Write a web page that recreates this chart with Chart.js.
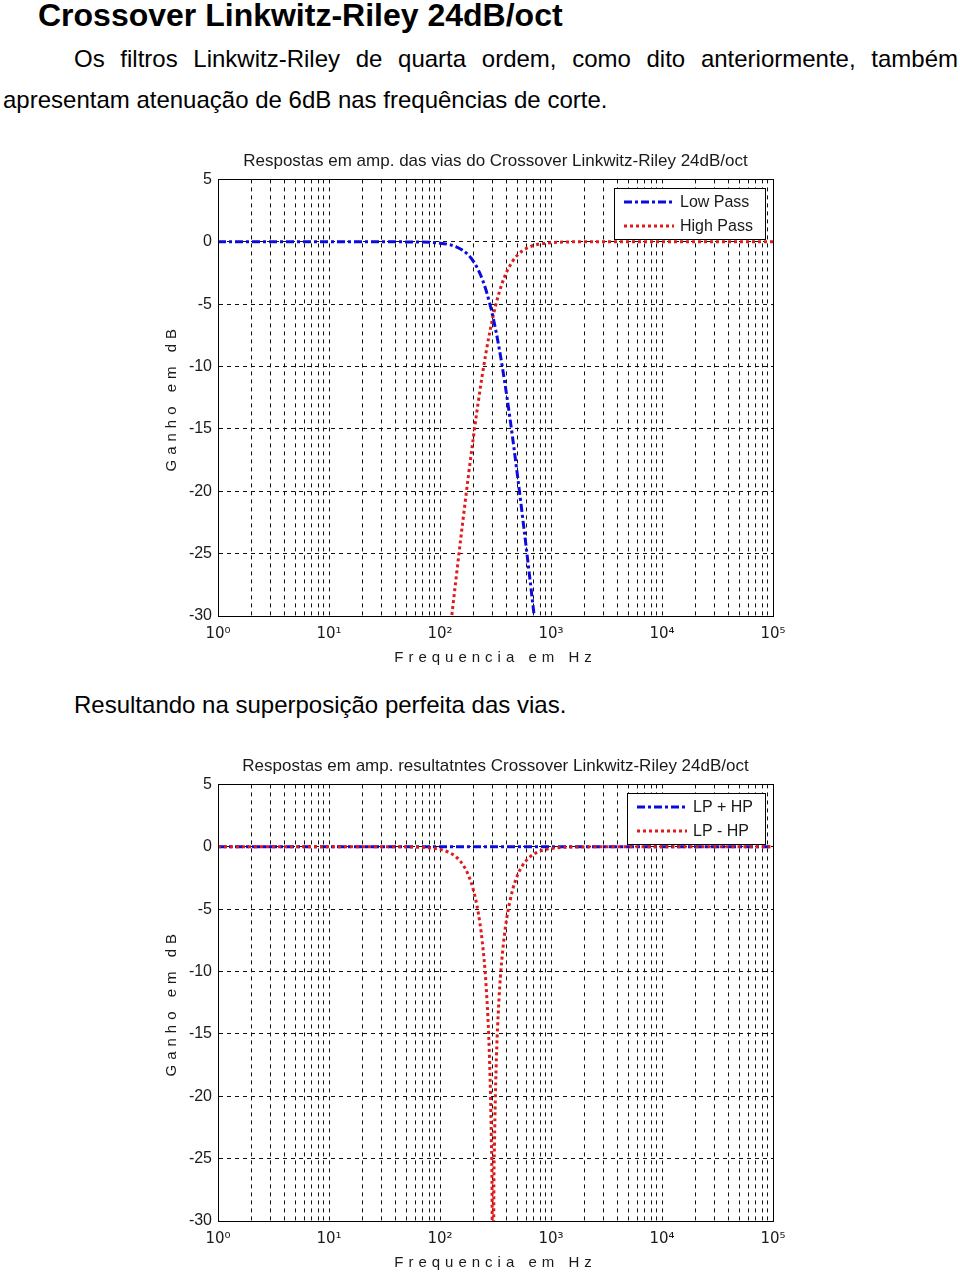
<!DOCTYPE html>
<html lang="pt">
<head>
<meta charset="utf-8">
<title>Crossover Linkwitz-Riley 24dB/oct</title>
<script src="https://cdn.jsdelivr.net/npm/chart.js@4.4.1/dist/chart.umd.min.js"></script>
<style>
  html, body { margin: 0; padding: 0; background: #fff; overflow: hidden; }
  body { width: 960px; height: 1274px; position: relative; font-family: "Liberation Sans", Arial, sans-serif; color: #000; }
  h1 { position: absolute; left: 38px; top: -1px; margin: 0; font-size: 32px; line-height: 32px; font-weight: bold; white-space: nowrap; }
  .p { position: absolute; margin: 0; font-size: 24px; line-height: 41px; white-space: nowrap; }
  #l1 { left: 74px; top: 38px; width: 884px; white-space: normal; text-align: justify; text-align-last: justify; }
  #l2 { left: 3px; top: 79px; }
  #l3 { left: 74px; top: 684px; }
  canvas { position: absolute; }
</style>
</head>
<body>
<h1>Crossover Linkwitz-Riley 24dB/oct</h1>
<p class="p" id="l1">Os filtros Linkwitz-Riley de quarta ordem, como dito anteriormente, também</p>
<p class="p" id="l2">apresentam atenuação de 6dB nas frequências de corte.</p>
<canvas id="c1" width="650" height="535" style="left:150px;top:140px"></canvas>
<p class="p" id="l3">Resultando na superposição perfeita das vias.</p>
<canvas id="c2" width="650" height="535" style="left:150px;top:745px"></canvas>
<script>
// frequencias lidas no eixo (Hz)
const freqHz = [1, 10, 30, 50, 80, 100, 120, 140, 160, 180, 200, 220, 240, 260, 280, 290, 295,
  300, 305, 310, 320, 340, 360, 380, 400, 450, 500, 550, 600, 650, 700, 750, 800, 1000, 2000, 10000, 100000];

// grafico 1: vias
const lowPassDb = [0, 0, 0, -0.01, -0.04, -0.11, -0.22, -0.40, -0.68, -1.06, -1.57, -2.21, -2.98, -3.89, -4.91, -5.45, -5.73,
  -6.02, -6.31, -6.61, -7.21, -8.46, -9.75, -11.06, -12.38, -15.65, -18.81, -21.80, -24.61, -27.25, -29.73, -32.06, -34.25, -41.9, -65.9, -121.8, -201.9];
const highPassDb = [-198.2, -118.2, -80.0, -62.3, -45.9, -38.3, -32.06, -26.88, -22.52, -18.81, -15.65, -12.98, -10.73, -8.86, -7.30, -6.63, -6.32,
  -6.02, -5.74, -5.47, -4.97, -4.12, -3.42, -2.85, -2.39, -1.57, -1.06, -0.74, -0.53, -0.39, -0.29, -0.22, -0.17, -0.07, 0, 0, 0];

// grafico 2: resultantes
const sumDb = [0, 0, 0, 0, 0, 0, 0, 0, 0, 0, 0, 0, 0, 0, 0, 0, 0,
  0, 0, 0, 0, 0, 0, 0, 0, 0, 0, 0, 0, 0, 0, 0, 0, 0, 0, 0, 0];
const diffDb = [0, 0, 0, -0.01, -0.09, -0.21, -0.45, -0.82, -1.41, -2.26, -3.48, -5.17, -7.56, -11.10, -17.26, -23.39, -29.47,
  -60, -29.6, -23.68, -17.83, -12.21, -9.14, -7.12, -5.69, -3.48, -2.26, -1.54, -1.09, -0.79, -0.59, -0.45, -0.34, -0.14, -0.01, 0, 0];

const decadeTicks = [1, 10, 100, 1000, 10000, 100000];
const decadeLabels = ['10⁰', '10¹', '10²', '10³', '10⁴', '10⁵'];
const minorSteps = [2, 3, 4, 5, 6, 7, 8, 9];

const FONT = '"Liberation Sans", Arial, sans-serif';
const SUP_FONT = '"DejaVu Sans", sans-serif';
const INK = '#1a1a1a';
const BLUE = '#0b0be0';
const RED = '#e01b1b';
const DASHDOT = [8, 3, 3, 3];
const DOTTED = [3, 3];

// linhas de grade em 1..9 x 10^n, como no matlab
const gridTicks = [];
decadeTicks.forEach((d, i) => {
  gridTicks.push(d);
  if (i < decadeTicks.length - 1) minorSteps.forEach(m => gridTicks.push(d * m));
});

const points = ys => freqHz.map((f, i) => ({ x: f, y: ys[i] }));

// titulos dos eixos com letras espacadas
const spacedTitles = {
  id: 'spacedTitles',
  afterUpdate(chart) {
    Object.values(chart.scales).forEach(scale => {
      if (scale._spaced) return;
      const orig = scale.drawTitle;
      scale.drawTitle = function () {
        this.ctx.save();
        this.ctx.letterSpacing = '5px';
        orig.call(this);
        this.ctx.restore();
      };
      scale._spaced = true;
    });
  }
};

// moldura da area e legenda dentro do grafico
const frameLegend = {
  id: 'frameLegend',
  afterDraw(chart) {
    const { ctx, chartArea: a } = chart;
    ctx.save();
    ctx.strokeStyle = '#000';
    ctx.lineWidth = 1;
    ctx.setLineDash([]);
    ctx.strokeRect(Math.round(a.left) + 0.5, Math.round(a.top) + 0.5, Math.round(a.right - a.left), Math.round(a.bottom - a.top));

    const sets = chart.data.datasets;
    ctx.font = '16px ' + FONT;
    const textW = Math.max(...sets.map(d => ctx.measureText(d.label).width));
    const pad = 10, sample = 50, gap = 6, rowH = 24;
    const w = Math.round(pad + sample + gap + textW + 12);
    const h = 51;
    const x = Math.round(a.right - 8 - w);
    const y = Math.round(a.top + 9);
    ctx.fillStyle = '#fff';
    ctx.fillRect(x, y, w, h);
    ctx.strokeRect(x + 0.5, y + 0.5, w, h);
    sets.forEach((d, i) => {
      const cy = y + 14 + i * rowH;
      ctx.beginPath();
      ctx.setLineDash(d.borderDash || []);
      ctx.strokeStyle = d.borderColor;
      ctx.lineWidth = d.borderWidth;
      ctx.moveTo(x + pad, cy);
      ctx.lineTo(x + pad + sample, cy);
      ctx.stroke();
      ctx.setLineDash([]);
      ctx.fillStyle = INK;
      ctx.textBaseline = 'middle';
      ctx.fillText(d.label, x + pad + sample + gap, cy + 1);
    });
    ctx.restore();
  }
};

function makeChart(id, titleText, datasets) {
  return new Chart(document.getElementById(id), {
    type: 'line',
    data: { datasets: datasets },
    options: {
      responsive: false,
      animation: false,
      layout: { padding: { right: 27, bottom: 0, top: 0, left: 0 } },
      elements: {
        point: { radius: 0 },
        line: { cubicInterpolationMode: 'monotone', borderCapStyle: 'butt' }
      },
      plugins: {
        legend: { display: false },
        tooltip: { enabled: false },
        title: {
          display: true,
          text: titleText,
          fullSize: false,
          color: INK,
          font: { family: FONT, size: 17, weight: 'normal', lineHeight: 1.2 },
          padding: { top: 11, bottom: 8 }
        }
      },
      scales: {
        x: {
          type: 'logarithmic',
          min: 1,
          max: 100000,
          afterBuildTicks: s => { s.ticks = gridTicks.map(v => ({ value: v })); },
          afterFit: s => { s.height = 59; },
          ticks: {
            autoSkip: false,
            maxRotation: 0,
            padding: 9,
            color: INK,
            font: { family: SUP_FONT, size: 15 },
            callback: v => {
              const i = decadeTicks.indexOf(v);
              return i < 0 ? '' : decadeLabels[i];
            }
          },
          grid: { color: '#111', lineWidth: 1, drawTicks: false },
          border: { display: true, color: '#000', width: 1, dash: [4, 4] },
          title: {
            display: true,
            text: 'Frequencia em Hz',
            color: INK,
            font: { family: FONT, size: 15 },
            padding: { top: 0, bottom: 8 }
          }
        },
        y: {
          min: -30,
          max: 5,
          afterFit: s => { s.width = 68; },
          ticks: { stepSize: 5, padding: 6, color: INK, font: { family: FONT, size: 16 } },
          grid: { color: '#111', lineWidth: 1, drawTicks: false },
          border: { display: true, color: '#000', width: 1, dash: [4, 4] },
          title: {
            display: true,
            text: 'Ganho em dB',
            color: INK,
            font: { family: FONT, size: 15 },
            padding: { top: 13, bottom: 0 }
          }
        }
      }
    },
    plugins: [spacedTitles, frameLegend]
  });
}

makeChart('c1', 'Respostas em amp. das vias do Crossover Linkwitz-Riley 24dB/oct', [
  { label: 'Low Pass', data: points(lowPassDb), borderColor: BLUE, borderWidth: 3, borderDash: DASHDOT },
  { label: 'High Pass', data: points(highPassDb), borderColor: RED, borderWidth: 3, borderDash: DOTTED }
]);

makeChart('c2', 'Respostas em amp. resultatntes Crossover Linkwitz-Riley 24dB/oct', [
  { label: 'LP + HP', data: points(sumDb), borderColor: BLUE, borderWidth: 3, borderDash: DASHDOT, order: 1 },
  { label: 'LP - HP', data: points(diffDb), borderColor: RED, borderWidth: 3, borderDash: DOTTED, order: 0 }
]);
</script>
</body>
</html>
